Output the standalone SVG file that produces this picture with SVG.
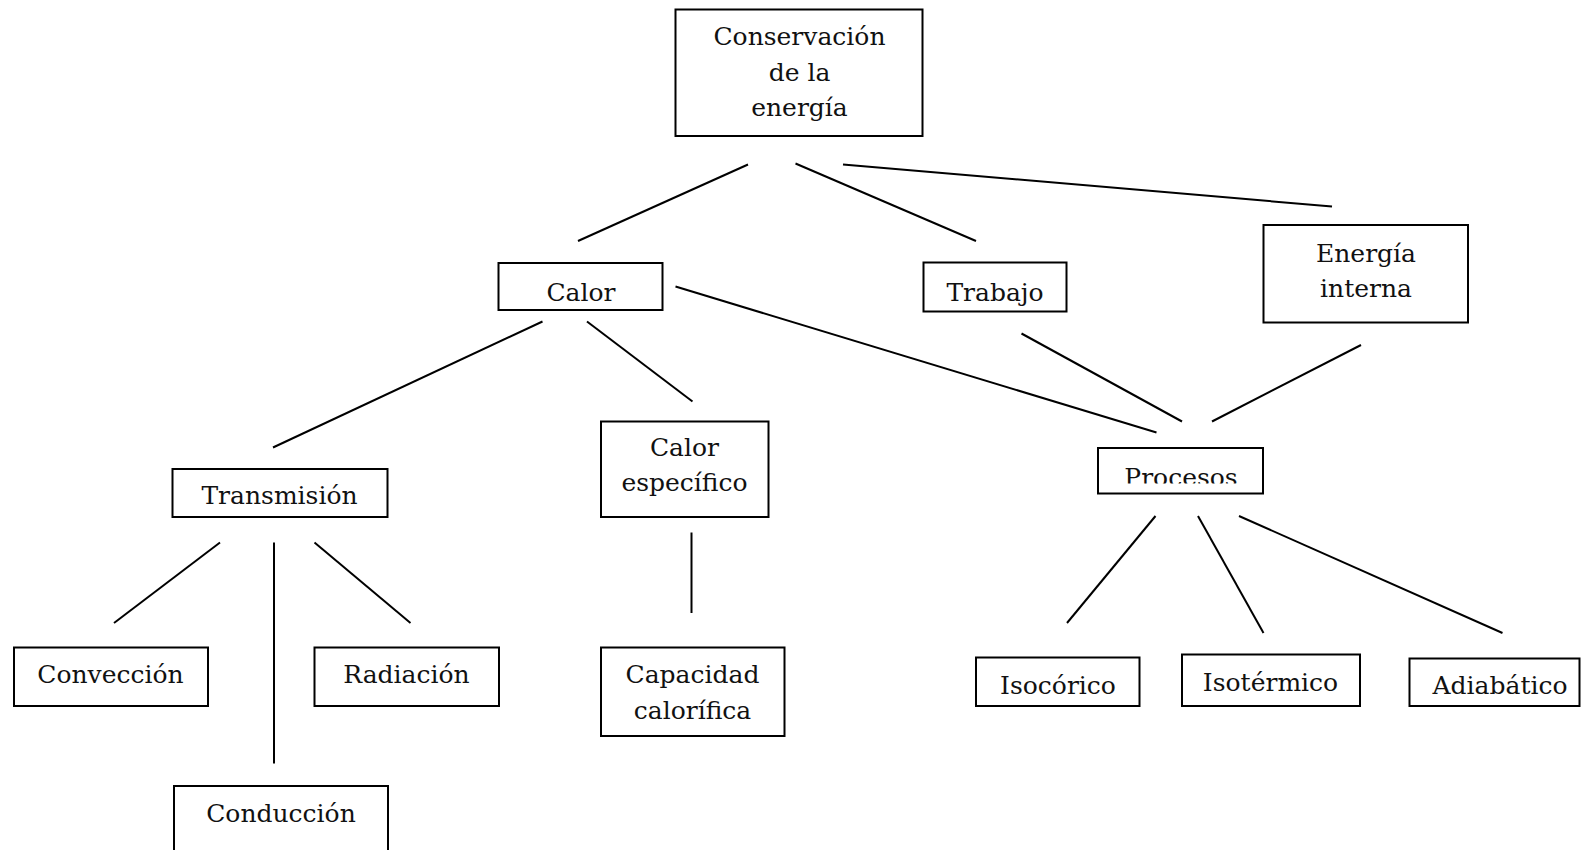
<svg xmlns="http://www.w3.org/2000/svg" width="1581" height="850" viewBox="0 0 1581 850">
  <style>
    .box { fill: #ffffff; stroke: #000000; stroke-width: 2; }
    .lbl { font-family: "DejaVu Serif", "Liberation Serif", serif; font-size: 25px; fill: #111111; text-anchor: middle; }
    .edge { stroke: #000000; stroke-width: 2; fill: none; }
  </style>
  <defs>
    <clipPath id="clip-trabajo"><rect x="923" y="262" width="144" height="45"/></clipPath>
    <clipPath id="clip-procesos"><rect x="1098" y="448" width="165" height="35.5"/></clipPath>
  </defs>
  <rect x="0" y="0" width="1581" height="850" fill="#ffffff"/>

  <!-- connectors -->
  <g id="connectors">
    <line class="edge" x1="748" y1="164.5" x2="578" y2="241"/>
    <line class="edge" x1="795.5" y1="163.5" x2="976" y2="241"/>
    <line class="edge" x1="843" y1="164.5" x2="1332" y2="206.5"/>
    <line class="edge" x1="675.5" y1="286.5" x2="1156.5" y2="432.5"/>
    <line class="edge" x1="1021.5" y1="333.5" x2="1182" y2="421.5"/>
    <line class="edge" x1="1361" y1="345" x2="1212" y2="421.5"/>
    <line class="edge" x1="542.5" y1="321.5" x2="273" y2="447.5"/>
    <line class="edge" x1="587" y1="321.5" x2="692.5" y2="401.5"/>
    <line class="edge" x1="220" y1="542.5" x2="114" y2="623"/>
    <line class="edge" x1="274" y1="542.5" x2="274" y2="763.5"/>
    <line class="edge" x1="314.5" y1="542.5" x2="410.5" y2="623"/>
    <line class="edge" x1="691.5" y1="532.5" x2="691.5" y2="613"/>
    <line class="edge" x1="1155.5" y1="516" x2="1067" y2="623"/>
    <line class="edge" x1="1198" y1="516" x2="1263.5" y2="633"/>
    <line class="edge" x1="1239" y1="516" x2="1502.5" y2="633"/>
  </g>

  <g id="node-conservacion">
    <rect class="box" x="675.5" y="9.5" width="247" height="126.5"/>
    <text class="lbl" x="799.5" y="45">Conservación</text>
    <text class="lbl" x="799.5" y="80.5">de la</text>
    <text class="lbl" x="799.5" y="116">energía</text>
  </g>

  <g id="node-calor">
    <rect class="box" x="498.5" y="263" width="164" height="47"/>
    <text class="lbl" x="581" y="300.5">Calor</text>
  </g>

  <g id="node-trabajo">
    <rect class="box" x="923.5" y="262.5" width="143" height="49"/>
    <text class="lbl" x="995" y="300.5" clip-path="url(#clip-trabajo)">Trabajo</text>
  </g>

  <g id="node-energia-interna">
    <rect class="box" x="1263.5" y="225" width="204.5" height="97.5"/>
    <text class="lbl" x="1366" y="262">Energía</text>
    <text class="lbl" x="1366" y="297">interna</text>
  </g>

  <g id="node-transmision">
    <rect class="box" x="172.5" y="469" width="215" height="48"/>
    <text class="lbl" x="279.5" y="504">Transmisión</text>
  </g>

  <g id="node-calor-especifico">
    <rect class="box" x="601" y="421.5" width="167.5" height="95.5"/>
    <text class="lbl" x="684.5" y="456">Calor</text>
    <text class="lbl" x="684.5" y="491">específico</text>
  </g>

  <g id="node-procesos">
    <rect class="box" x="1098" y="448" width="165" height="45.5"/>
    <text class="lbl" x="1181" y="486" clip-path="url(#clip-procesos)">Procesos</text>
  </g>

  <g id="node-conveccion">
    <rect class="box" x="14" y="647.5" width="194" height="58.5"/>
    <text class="lbl" x="110.5" y="683">Convección</text>
  </g>

  <g id="node-radiacion">
    <rect class="box" x="314.5" y="647.5" width="184.5" height="58.5"/>
    <text class="lbl" x="406.5" y="683">Radiación</text>
  </g>

  <g id="node-conduccion">
    <rect class="box" x="174" y="786" width="214" height="80"/>
    <text class="lbl" x="281" y="822">Conducción</text>
  </g>

  <g id="node-capacidad">
    <rect class="box" x="601" y="647.5" width="183.5" height="88.5"/>
    <text class="lbl" x="692.5" y="682.5">Capacidad</text>
    <text class="lbl" x="692.5" y="719">calorífica</text>
  </g>

  <g id="node-isocorico">
    <rect class="box" x="976" y="657.5" width="163.5" height="48.5"/>
    <text class="lbl" x="1058" y="694">Isocórico</text>
  </g>

  <g id="node-isotermico">
    <rect class="box" x="1182" y="654.5" width="178" height="51.5"/>
    <text class="lbl" x="1270.5" y="691">Isotérmico</text>
  </g>

  <g id="node-adiabatico">
    <rect class="box" x="1409.5" y="658.5" width="170" height="47.5"/>
    <text class="lbl" x="1500" y="694">Adiabático</text>
  </g>
</svg>
